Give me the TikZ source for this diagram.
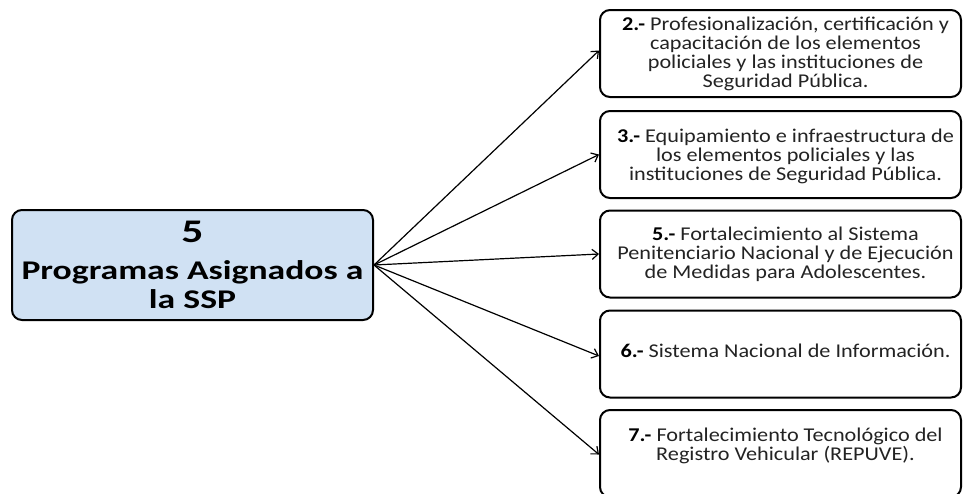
\documentclass[tikz,border=0pt]{standalone}
\usepackage{fontspec}
\setmainfont{Carlito}
\newfontfamily\centerfont[FakeStretch=1.32]{Carlito}
\newfontfamily\progfont[FakeStretch=1.14]{Carlito}
\usetikzlibrary{arrows.meta}
\definecolor{centerfill}{RGB}{208,225,243}
\definecolor{txt}{RGB}{35,35,35}
\begin{document}
\begin{tikzpicture}[x=1pt,y=-1pt,
  centerbox/.style={draw=black,line width=2pt,rounded corners=10pt,fill=centerfill,
    minimum width=361pt,minimum height=110pt,inner sep=0pt,align=center,
    font=\centerfont\bfseries\fontsize{27}{29}\selectfont,text=black},
  progbox/.style={draw=black,line width=2pt,rounded corners=10pt,fill=white,
    minimum width=361pt,minimum height=87pt,inner sep=0pt},
  progtext/.style={inner sep=0pt,align=center,
    font=\progfont\fontsize{19.5}{19}\selectfont,text=txt},
  link/.style={line width=1.2pt,-{Straight Barb[length=6pt,width=10pt,line width=1.2pt]}}]
\clip (0,0) rectangle (963,493);
\useasboundingbox (0,0) rectangle (963,493);
\fill[white] (0,0) rectangle (963,493);

\node[centerbox] (c) at (192.5,265) {{\fontsize{33}{33}\selectfont 5}\\[8pt]Programas Asignados a\\la SSP};

\node[progbox] (b1) at (780.5,53.5) {};
\node[progbox] (b2) at (780.5,154.5) {};
\node[progbox] (b3) at (780.5,254) {};
\node[progbox] (b4) at (780.5,354) {};
\node[progbox] (b5) at (780.5,453.5) {};

\node[progtext] (t1) at ([xshift=5pt]b1.center) {\textbf{\color{black}2.-} Profesionalización, certificación y\\capacitación de los elementos\\policiales y las instituciones de\\Seguridad Pública.};
\node[progtext] (t2) at ([xshift=5pt,yshift=-2pt]b2.center) {\textbf{\color{black}3.-} Equipamiento e infraestructura de\\los elementos policiales y las\\instituciones de Seguridad Pública.};
\node[progtext] (t3) at ([xshift=5pt]b3.center) {\textbf{\color{black}5.-} Fortalecimiento al Sistema\\Penitenciario Nacional y de Ejecución\\de Medidas para Adolescentes.};
\node[progtext] (t4) at ([xshift=5pt,yshift=3pt]b4.center) {\textbf{\color{black}6.-} Sistema Nacional de Información.};
\node[progtext] (t5) at ([xshift=5pt,yshift=8pt]b5.center) {\textbf{\color{black}7.-} Fortalecimiento Tecnológico del\\Registro Vehicular (REPUVE).};

\draw[link] (c.east) -- ([yshift=3pt]b1.west);
\draw[link] (c.east) -- (b2.west);
\draw[link] (c.east) -- (b3.west);
\draw[link] (c.east) -- ([yshift=-2pt]b4.west);
\draw[link] (c.east) -- ([yshift=-1pt]b5.west);
\end{tikzpicture}
\end{document}
